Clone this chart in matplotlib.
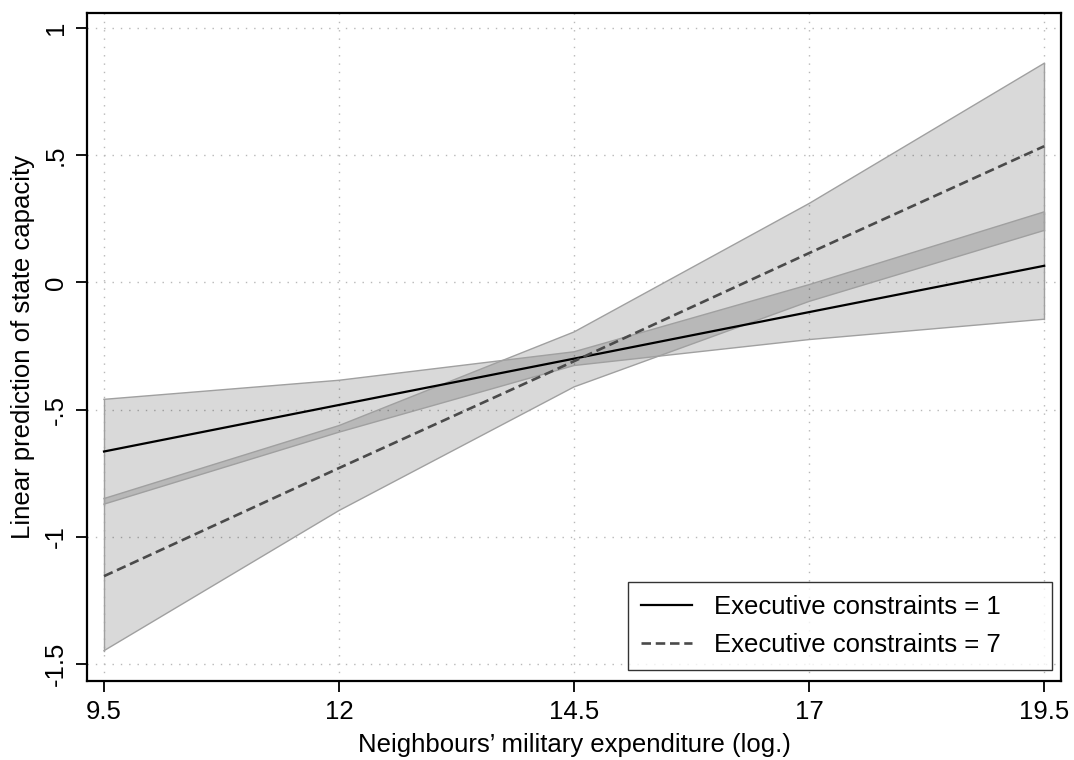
import matplotlib
matplotlib.use("Agg")
import matplotlib.pyplot as plt

plt.rcParams['font.family'] = ['Liberation Sans', 'DejaVu Sans']

# Data
x = [9.5, 12, 14.5, 17, 19.5]
ec1_fit = [-0.665, -0.482, -0.300, -0.117, 0.065]
ec1_lo = [-0.872, -0.589, -0.327, -0.225, -0.145]
ec1_hi = [-0.460, -0.385, -0.273, -0.009, 0.277]
ec7_fit = [-1.155, -0.730, -0.310, 0.115, 0.535]
ec7_lo = [-1.448, -0.897, -0.411, -0.075, 0.204]
ec7_hi = [-0.850, -0.563, -0.195, 0.310, 0.861]

xticks = [9.5, 12, 14.5, 17, 19.5]
xticklabels = ["9.5", "12", "14.5", "17", "19.5"]
yticks = [-1.5, -1, -0.5, 0, 0.5, 1]
yticklabels = ["-1.5", "-1", "-.5", "0", ".5", "1"]
labels = ["Executive constraints = 1", "Executive constraints = 7"]

fig = plt.figure(figsize=(10.74, 7.60), dpi=100)
ax = fig.add_axes([0.081, 0.104, 0.907, 0.879])

fs = 18.5

for lo, hi in [(ec1_lo, ec1_hi), (ec7_lo, ec7_hi)]:
    ax.fill_between(x, lo, hi, facecolor=(0, 0, 0, 0.15), edgecolor='none', zorder=2)
    ax.plot(x, lo, color='#a0a0a0', lw=1.0, zorder=2.5)
    ax.plot(x, hi, color='#a0a0a0', lw=1.0, zorder=2.5)
    ax.plot([x[0], x[0]], [lo[0], hi[0]], color='#a0a0a0', lw=1.0, zorder=2.5)
    ax.plot([x[-1], x[-1]], [lo[-1], hi[-1]], color='#a0a0a0', lw=1.0, zorder=2.5)

l1, = ax.plot(x, ec1_fit, color='black', lw=1.6, zorder=3, label=labels[0])
l2, = ax.plot(x, ec7_fit, color='#4a4a4a', lw=1.9, linestyle=(0, (3.6, 1.8)), zorder=3, label=labels[1])

ax.set_xlim(9.319, 19.68)
ax.set_ylim(-1.567, 1.059)
ax.set_xticks(xticks)
ax.set_xticklabels(xticklabels, fontsize=fs)
ax.set_yticks(yticks)
ax.set_yticklabels(yticklabels, fontsize=fs, rotation=90, va='center')
ax.tick_params(axis='both', direction='out', length=8, width=1.3, color='black', pad=6)

ax.grid(True, linestyle=(0, (1, 5)), color='#b8b8b8', lw=1.0, zorder=1)
ax.set_axisbelow(True)

for sp in ax.spines.values():
    sp.set_linewidth(1.6)
    sp.set_color('black')

ax.set_xlabel("Neighbours’ military expenditure (log.)", fontsize=fs, labelpad=6)
ax.set_ylabel("Linear prediction of state capacity", fontsize=fs, labelpad=6)

leg = ax.legend(handles=[l1, l2], loc='lower left', bbox_to_anchor=(0.5554, 0.0165, 0.4354, 0.1),
                mode='expand', borderaxespad=0, fontsize=fs, frameon=True, fancybox=False,
                handlelength=2.0, handletextpad=0.85, borderpad=0.5, labelspacing=0.55)
leg.get_frame().set_edgecolor('black')
leg.get_frame().set_linewidth(1.0)

fig.savefig("out.png", dpi=100)
